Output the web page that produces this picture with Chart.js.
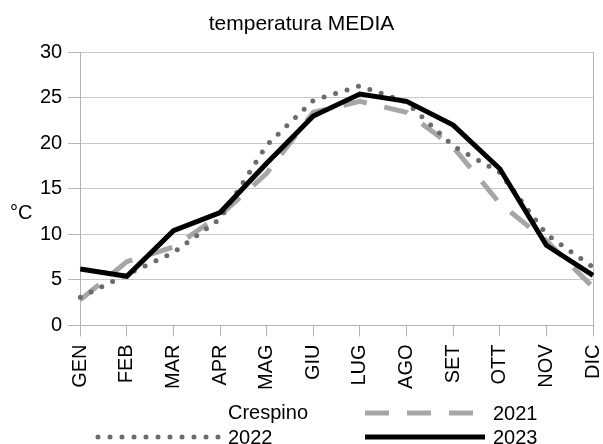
<!DOCTYPE html>
<html>
<head>
<meta charset="utf-8">
<script src="https://cdn.jsdelivr.net/npm/chart.js@4/dist/chart.umd.min.js"></script>
<style>
  html, body { margin: 0; padding: 0; background: #fff; }
  #wrap { width: 603px; height: 444px; }
</style>
</head>
<body>
<div id="wrap"><canvas id="TempChart" width="603" height="444"></canvas></div>
<script>
// mesi
var mesi = ['GEN', 'FEB', 'MAR', 'APR', 'MAG', 'GIU', 'LUG', 'AGO', 'SET', 'OTT', 'NOV', 'DIC'];

// temperature medie (°C)
var t2021 = [2.8, 7.0, 8.6, 12.1, 16.7, 23.4, 24.6, 23.4, 19.6, 13.4, 9.3, 4.2];
var t2022 = [3.1, 5.6, 8.0, 11.7, 19.8, 24.7, 26.3, 24.5, 19.7, 16.8, 10.0, 6.4];
var t2023 = [6.2, 5.4, 10.4, 12.4, 17.8, 23.0, 25.4, 24.6, 22.0, 17.2, 8.8, 5.5];

var yTicks = [0, 5, 10, 15, 20, 25, 30];
var titolo = 'temperatura MEDIA';
var localita = 'Crespino';
var unita = '°C';

var FONT = '"Liberation Sans", Arial, sans-serif';

// legenda a due colonne + etichetta asse y orizzontale
var legendaPlugin = {
	id: 'legenda',
	afterDraw: function(chart) {
		var ctx = chart.ctx;
		ctx.save();
		ctx.font = '20px ' + FONT;
		ctx.fillStyle = '#000';
		ctx.textBaseline = 'middle';
		ctx.textAlign = 'left';

		// °C
		ctx.fillText(unita, 10, 213);

		var items = [
			{ text: localita, ds: null, x0: 97, x1: 222, tx: 228, y: 412 },
			{ text: chart.data.datasets[0].label, ds: chart.data.datasets[0], x0: 365, x1: 480, tx: 493, y: 413 },
			{ text: chart.data.datasets[1].label, ds: chart.data.datasets[1], x0: 98, x1: 222, tx: 228, y: 437 },
			{ text: chart.data.datasets[2].label, ds: chart.data.datasets[2], x0: 365, x1: 485, tx: 493, y: 437 }
		];
		items.forEach(function(it) {
			if (it.ds) {
				ctx.save();
				ctx.strokeStyle = it.ds.borderColor;
				ctx.lineWidth = it.ds.borderWidth;
				ctx.lineCap = it.ds.borderCapStyle || 'butt';
				ctx.setLineDash(it.ds.borderDash || []);
				ctx.beginPath();
				ctx.moveTo(it.x0, it.y);
				ctx.lineTo(it.x1, it.y);
				ctx.stroke();
				ctx.restore();
			}
			ctx.fillText(it.text, it.tx, it.y + 1);
		});
		ctx.restore();
	}
};

var ctx = document.getElementById('TempChart').getContext('2d');
var chart = new Chart(ctx, {
	type: 'line',
	data: {
		labels: mesi,
		datasets: [{
			label: '2021',
			data: t2021,
			borderColor: '#a6a6a6',
			borderWidth: 5,
			borderDash: [24, 18],
			borderCapStyle: 'butt',
			pointRadius: 0,
			tension: 0,
			order: 2
		}, {
			label: '2022',
			data: t2022,
			borderColor: '#6b6b6b',
			borderWidth: 5,
			borderDash: [0, 12],
			borderCapStyle: 'round',
			pointRadius: 0,
			tension: 0,
			order: 1
		}, {
			label: '2023',
			data: t2023,
			borderColor: '#000000',
			borderWidth: 5,
			borderCapStyle: 'butt',
			pointRadius: 0,
			tension: 0,
			order: 0
		}]
	},
	options: {
		responsive: false,
		animation: false,
		layout: { padding: { left: 10, right: 10, top: 0, bottom: 46 } },
		plugins: {
			legend: { display: false },
			tooltip: { enabled: false },
			title: {
				display: true,
				text: titolo,
				color: '#000',
				font: { family: FONT, size: 21, weight: 'normal' },
				padding: { top: 12, bottom: 15 }
			}
		},
		scales: {
			x: {
				offset: false,
				afterFit: function(scale) {
					// l'etichetta DIC puo' uscire dall'area, come nell'originale
					scale.paddingRight = 0;
				},
				grid: {
					drawOnChartArea: true,
					color: function(c) { return c.index === mesi.length - 1 ? '#b3b3b3' : 'rgba(0,0,0,0)'; },
					tickColor: '#b3b3b3',
					tickLength: 11
				},
				border: { color: '#b3b3b3' },
				ticks: {
					color: '#000',
					font: { family: FONT, size: 20 },
					maxRotation: 90,
					minRotation: 90,
					padding: 8,
					autoSkip: false
				}
			},
			y: {
				min: 0,
				max: 30,
				afterBuildTicks: function(scale) {
					scale.ticks = yTicks.map(function(v) { return { value: v }; });
				},
				afterFit: function(scale) {
					// spazio per l'etichetta °C
					scale.width += 24;
				},
				grid: { color: '#c8c8c8', tickColor: '#b3b3b3', tickLength: 12 },
				border: { color: '#b3b3b3' },
				ticks: {
					color: '#000',
					font: { family: FONT, size: 20 },
					padding: 6
				}
			}
		}
	},
	plugins: [legendaPlugin]
});
</script>
</body>
</html>
